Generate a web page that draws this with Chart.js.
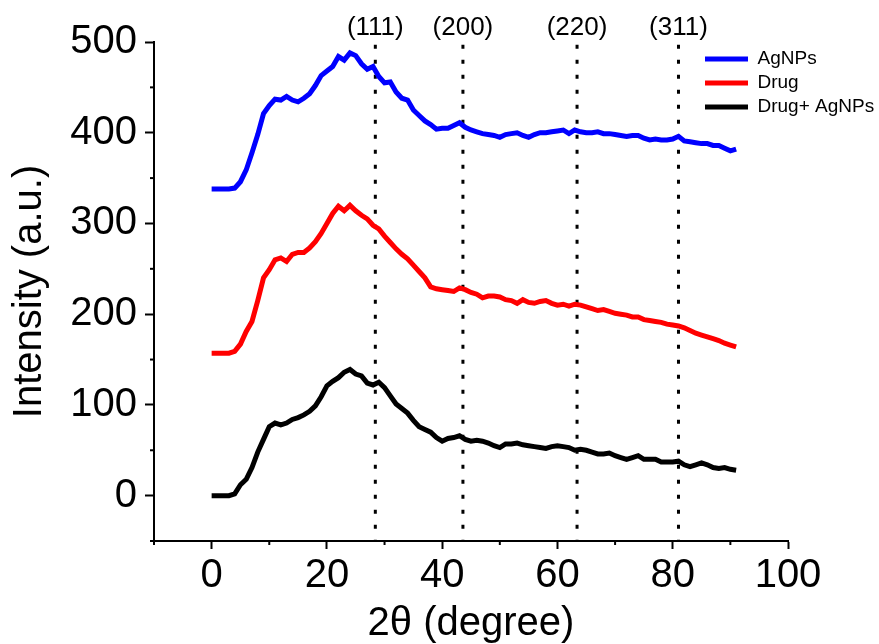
<!DOCTYPE html>
<html>
<head>
<meta charset="utf-8">
<script src="https://cdn.jsdelivr.net/npm/chart.js@4.4.1/dist/chart.umd.min.js"></script>
<style>
  body { margin: 0; background: #fff; }
  #wrap { width: 879px; height: 644px; }
</style>
</head>
<body>
<div id="wrap"><canvas id="xrdChart"></canvas></div>
<script>
// 2theta (degree), shared by the three patterns
const twoTheta = [0, 1, 2, 3, 4, 5, 6, 7, 8, 9, 10, 11, 12, 13, 14, 15, 16, 17, 18, 19,
  20, 21, 22, 23, 24, 25, 26, 27, 28, 29, 30, 31, 32, 33, 34, 35, 36, 37, 38, 39,
  40, 41, 42, 43, 44, 45, 46, 47, 48, 49, 50, 51, 52, 53, 54, 55, 56, 57, 58, 59,
  60, 61, 62, 63, 64, 65, 66, 67, 68, 69, 70, 71, 72, 73, 74, 75, 76, 77, 78, 79,
  80, 81, 82, 83, 84, 85, 86, 87, 88, 89, 90, 91];

// intensities (a.u., already offset like the original)
const agnps = [338, 338, 338, 338, 339, 346, 359, 378, 398, 421, 430, 437, 436, 440, 436, 434, 438, 443, 452, 463,
  468, 473, 484, 480, 488, 485, 476, 470, 473, 462, 455, 456, 445, 438, 436, 425, 419, 413, 409, 404,
  405, 405, 408, 411, 406, 403, 401, 399, 398, 397, 395, 398, 399, 400, 397, 395, 398, 400, 400, 401,
  402, 403, 399, 403, 401, 400, 400, 401, 399, 399, 398, 397, 396, 397, 397, 394, 392, 393, 392, 392,
  393, 396, 391, 390, 389, 388, 388, 386, 386, 383, 380, 382];

const drug = [157, 157, 157, 157, 159, 167, 181, 192, 215, 240, 249, 260, 262, 258, 266, 268, 268, 273, 280, 289,
  300, 311, 319, 314, 320, 314, 309, 305, 298, 294, 286, 279, 272, 266, 261, 254, 247, 240, 230, 228,
  227, 226, 225, 229, 227, 224, 222, 218, 220, 220, 219, 216, 215, 212, 216, 213, 212, 214, 215, 212,
  210, 211, 209, 211, 210, 208, 206, 204, 205, 203, 201, 200, 199, 197, 197, 194, 193, 192, 191, 189,
  188, 187, 185, 182, 179, 177, 175, 173, 171, 168, 166, 164];

const drugAgnps = [0, 0, 0, 0, 2, 12, 18, 31, 48, 62, 76, 80, 78, 80, 84, 86, 89, 93, 99, 109,
  121, 126, 130, 136, 139, 134, 132, 124, 122, 125, 119, 110, 101, 96, 91, 83, 76, 73, 70, 64,
  60, 63, 64, 66, 62, 60, 61, 60, 58, 55, 53, 57, 57, 58, 56, 55, 54, 53, 52, 54,
  55, 54, 53, 50, 51, 50, 48, 46, 46, 47, 44, 42, 40, 42, 44, 40, 40, 40, 37, 37,
  37, 38, 34, 32, 34, 36, 34, 31, 30, 31, 29, 28];

// Ag reflections marked with dotted lines
const peakNames = ['(111)', '(200)', '(220)', '(311)'];
const peakPos = [28.4, 43.6, 63.4, 81.0];

const seriesNames = ['AgNPs', 'Drug', 'Drug+ AgNPs'];
const seriesColors = ['#0000ff', '#ff0000', '#000000'];
const seriesData = [agnps, drug, drugAgnps];

const FONT = 'Arial, "Liberation Sans", sans-serif';
Chart.defaults.color = '#000';
Chart.defaults.font.family = FONT;

const datasets = seriesData.map((vals, i) => ({
  label: seriesNames[i],
  data: twoTheta.map((t, k) => ({ x: t, y: vals[k] })),
  borderColor: seriesColors[i],
  backgroundColor: seriesColors[i],
  borderWidth: 5,
  pointRadius: 0,
  tension: 0
}));

peakPos.forEach(p => {
  datasets.push({
    label: 'peak',
    data: [{ x: p, y: 497 }, { x: p, y: -50 }],
    borderColor: '#000',
    borderWidth: 3,
    borderDash: [4, 11],
    pointRadius: 0
  });
});

// minor ticks, peak labels and legend placement
const extras = {
  id: 'extras',
  afterUpdate(chart) {
    const lg = chart.legend;
    lg.left = 700;
    lg.top = 44.5;
    lg.right = 879;
    lg.bottom = 300;
  },
  afterDraw(chart) {
    const ctx = chart.ctx;
    const xs = chart.scales.x, ys = chart.scales.y;
    const area = chart.chartArea;
    ctx.save();
    ctx.strokeStyle = '#000';
    ctx.lineWidth = 2;
    xs.ticks.forEach(t => {
      if (t.value % 20 !== 0) {
        const px = xs.getPixelForValue(t.value);
        ctx.beginPath();
        ctx.moveTo(px, area.bottom);
        ctx.lineTo(px, area.bottom + 4);
        ctx.stroke();
      }
    });
    ys.ticks.forEach(t => {
      if (t.value % 100 !== 0) {
        const py = ys.getPixelForValue(t.value);
        ctx.beginPath();
        ctx.moveTo(area.left, py);
        ctx.lineTo(area.left - 4, py);
        ctx.stroke();
      }
    });
    ctx.fillStyle = '#000';
    ctx.font = '26px ' + FONT;
    ctx.textAlign = 'center';
    ctx.textBaseline = 'alphabetic';
    peakPos.forEach((p, i) => {
      ctx.fillText(peakNames[i], xs.getPixelForValue(p), 35);
    });
    ctx.restore();
  }
};

const ctx = document.getElementById('xrdChart').getContext('2d');
new Chart(ctx, {
  type: 'line',
  data: { datasets: datasets },
  plugins: [extras],
  options: {
    responsive: true,
    maintainAspectRatio: false,
    animation: false,
    layout: { padding: { left: 10, right: 91, top: 42, bottom: 0 } },
    plugins: {
      tooltip: { enabled: false },
      legend: {
        position: 'chartArea',
        align: 'start',
        labels: {
          usePointStyle: true,
          pointStyle: 'line',
          pointStyleWidth: 43,
          padding: 5,
          font: { size: 19 },
          filter: item => item.datasetIndex < 3
        }
      }
    },
    scales: {
      x: {
        type: 'linear',
        min: -10,
        max: 100,
        afterFit: s => { s.height = 103; },
        ticks: {
          stepSize: 10,
          autoSkip: false,
          maxRotation: 0,
          padding: 3,
          font: { size: 40 },
          callback: v => (v % 20 === 0 ? v : '')
        },
        grid: {
          drawOnChartArea: false,
          tickLength: 8,
          tickWidth: 2,
          tickColor: c => (c.tick && c.tick.value % 20 === 0 ? '#000' : 'rgba(0,0,0,0)')
        },
        border: { color: '#000', width: 2 },
        title: {
          display: true,
          text: '2\u03b8 (degree)',
          font: { size: 40, lineHeight: 1 },
          padding: { top: 0, bottom: 0 }
        }
      },
      y: {
        min: -50,
        max: 500,
        afterFit: s => { s.width = 144; },
        ticks: {
          stepSize: 50,
          autoSkip: false,
          padding: 8,
          font: { size: 40 },
          callback: v => (v % 100 === 0 ? v : '')
        },
        grid: {
          drawOnChartArea: false,
          tickLength: 9,
          tickWidth: 2,
          tickColor: c => (c.tick && c.tick.value % 100 === 0 ? '#000' : 'rgba(0,0,0,0)')
        },
        border: { color: '#000', width: 2 },
        title: {
          display: true,
          text: 'Intensity (a.u.)',
          font: { size: 40, lineHeight: 1 },
          padding: { top: 0, bottom: 0 }
        }
      }
    }
  }
});
</script>
</body>
</html>
